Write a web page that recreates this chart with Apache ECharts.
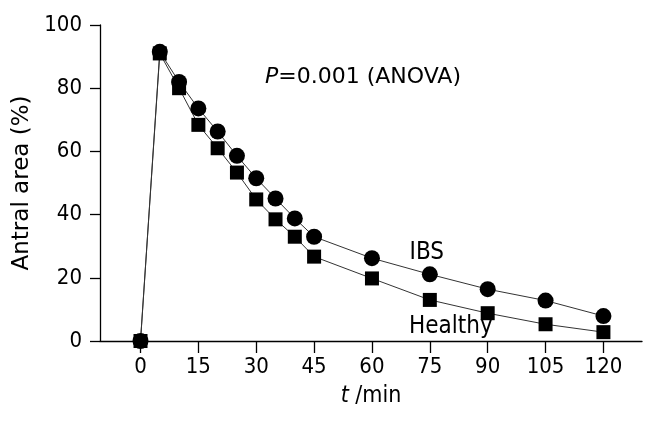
<!DOCTYPE html>
<html>
<head>
<meta charset="utf-8">
<script src="https://cdn.jsdelivr.net/npm/echarts@6/dist/echarts.min.js"></script>
<style>html,body{margin:0;padding:0;background:#fff;}#c{width:660px;height:423px;}</style>
</head>
<body>
<div id="c"></div>
<script>
const times = [0, 5, 10, 15, 20, 25, 30, 35, 40, 45, 60, 75, 90, 105, 120];
const ibs = [0, 91.5, 82, 73.6, 66.3, 58.6, 51.5, 45.1, 38.8, 33.0, 26.2, 21.1, 16.4, 12.8, 7.9];
const healthy = [0, 91, 80, 68.4, 61, 53.3, 44.8, 38.5, 33.0, 26.7, 19.8, 13.0, 8.8, 5.3, 2.8];
const xTicks = [0, 15, 30, 45, 60, 75, 90, 105, 120];

const FONT = '"DejaVu Sans Condensed", "DejaVu Sans", sans-serif';
const FONT2 = '"DejaVu Sans", sans-serif';
const chart = echarts.init(document.getElementById('c'));

function pairs(vals, labelIdx, labelText, pos, offset) {
  return times.map((t, i) => {
    const item = { value: [t, vals[i]] };
    if (i === labelIdx) {
      item.label = {
        show: true, formatter: labelText, position: pos, offset: offset,
        color: '#000', fontSize: 24, fontFamily: FONT
      };
    }
    return item;
  });
}

chart.setOption({
  animation: false,
  backgroundColor: '#fff',
  grid: { left: 100, right: 18, top: 25, bottom: 82, containLabel: false },
  xAxis: {
    type: 'value', min: -10.5, max: 130,
    name: '{i|t} /min', nameLocation: 'middle', nameGap: 44,
    nameTextStyle: {
      color: '#000', fontSize: 23, fontFamily: FONT,
      rich: { i: { fontStyle: 'italic', fontSize: 23, fontFamily: FONT, color: '#000' } }
    },
    axisLine: { show: true, onZero: false, lineStyle: { color: '#000', width: 1.3 } },
    axisTick: { show: true, inside: false, length: 12, customValues: xTicks, lineStyle: { color: '#000', width: 1.3 } },
    axisLabel: { customValues: xTicks, margin: 15, color: '#000', fontSize: 22, fontFamily: FONT },
    splitLine: { show: false }
  },
  yAxis: {
    type: 'value', min: 0, max: 100, interval: 20,
    name: 'Antral area (%)', nameLocation: 'middle', nameGap: 62, nameRotate: 90,
    nameTextStyle: { color: '#000', fontSize: 23, fontFamily: FONT2 },
    axisLine: { show: true, onZero: false, lineStyle: { color: '#000', width: 1.3 } },
    axisTick: { show: true, inside: false, length: 10, lineStyle: { color: '#000', width: 1.3 } },
    axisLabel: { margin: 18, color: '#000', fontSize: 22, fontFamily: FONT },
    splitLine: { show: false }
  },
  series: [
    {
      name: 'IBS', type: 'line', data: pairs(ibs, 11, 'IBS', 'top', [-3, 3]),
      symbol: 'circle', symbolSize: 16, showAllSymbol: true,
      itemStyle: { color: '#000' },
      lineStyle: { color: '#333', width: 1 }
    },
    {
      name: 'Healthy', type: 'line', data: pairs(healthy, 11, 'Healthy', 'bottom', [21, 3]),
      symbol: 'rect', symbolSize: 14, showAllSymbol: true,
      itemStyle: { color: '#000' },
      lineStyle: { color: '#333', width: 1 }
    }
  ],
  graphic: [
    {
      type: 'text', left: 265, top: 66,
      style: {
        text: '{i|P}=0.001 (ANOVA)', fill: '#000', fontSize: 22, fontFamily: FONT2,
        rich: { i: { fontStyle: 'italic', fontSize: 22, fontFamily: FONT2, fill: '#000' } }
      }
    }
  ]
});
</script>
</body>
</html>
